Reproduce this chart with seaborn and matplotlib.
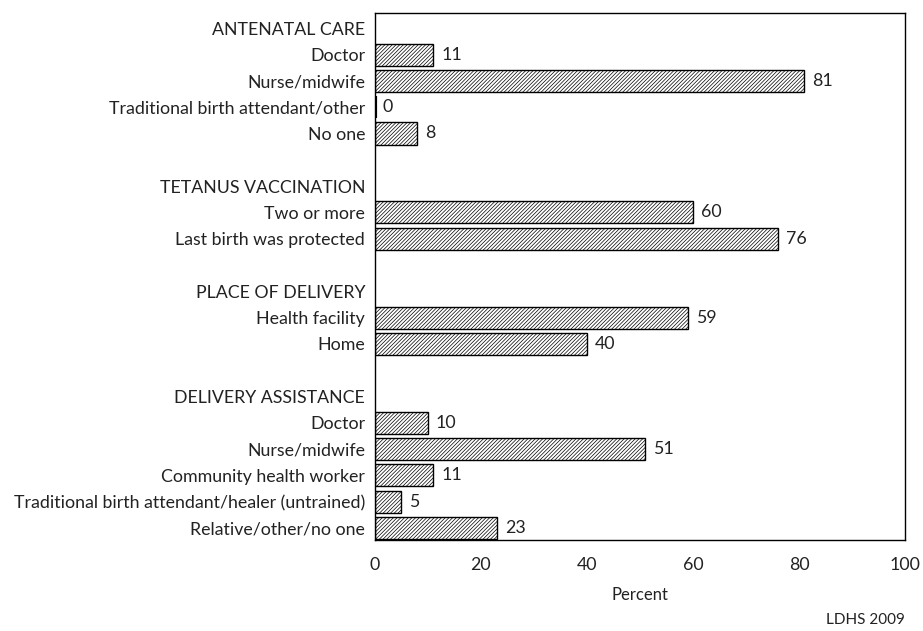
import numpy as np
import pandas as pd
import seaborn as sns
import matplotlib.pyplot as plt

labels = [
    "ANTENATAL CARE", "Doctor", "Nurse/midwife", "Traditional birth attendant/other", "No one",
    "",
    "TETANUS VACCINATION", "Two or more", "Last birth was protected",
    "",
    "PLACE OF DELIVERY", "Health facility", "Home",
    "",
    "DELIVERY ASSISTANCE", "Doctor", "Nurse/midwife", "Community health worker",
    "Traditional birth attendant/healer (untrained)", "Relative/other/no one",
]
percent = [
    np.nan, 11, 81, 0, 8,
    np.nan,
    np.nan, 60, 76,
    np.nan,
    np.nan, 59, 40,
    np.nan,
    np.nan, 10, 51, 11, 5, 23,
]

df = pd.DataFrame({"row": range(len(labels)), "percent": percent})

sns.set_style("white")
plt.rcParams["font.family"] = ["Lato", "DejaVu Sans"]
plt.rcParams["hatch.linewidth"] = 0.5

fig = plt.figure(figsize=(9.23, 6.31), dpi=100)
ax = fig.add_axes([0.406, 0.144, 0.5745, 0.835])

sns.barplot(data=df, x="percent", y="row", orient="h", order=list(range(len(labels))),
            color="white", edgecolor="black", linewidth=1, width=0.84, ax=ax)

for bar in ax.patches:
    bar.set_hatch("/////////")
    bar.set_facecolor("white")
    bar.set_edgecolor("black")
    w = bar.get_width()
    if np.isnan(w):
        continue
    if w == 0:
        # zero bar shows as a thick stroke in the original
        bar.set_linewidth(3)
    ax.text(w + 1.5, bar.get_y() + bar.get_height() / 2, f"{w:.0f}",
            va="center", ha="left", fontsize=12.8, color="#222222")

ax.set_xlim(0, 100)
ax.set_ylim(len(labels) - 0.54, -0.57)
ax.set_xticks([0, 20, 40, 60, 80, 100])
ax.set_yticks(range(len(labels)))
ax.set_yticklabels(labels)
ax.tick_params(axis="y", length=0, pad=7, labelsize=12.8, labelcolor="#222222")
ax.tick_params(axis="x", length=0, pad=12, labelsize=12.8, labelcolor="#222222")
ax.set_ylabel("")
ax.set_xlabel("Percent", fontsize=12, color="#222222", labelpad=10)
for s in ax.spines.values():
    s.set_visible(True)
    s.set_color("black")
    s.set_linewidth(1)

fig.text(0.98, 0.006, "LDHS 2009", ha="right", va="bottom", fontsize=11, color="#222222")

fig.savefig("out.png", dpi=100)
